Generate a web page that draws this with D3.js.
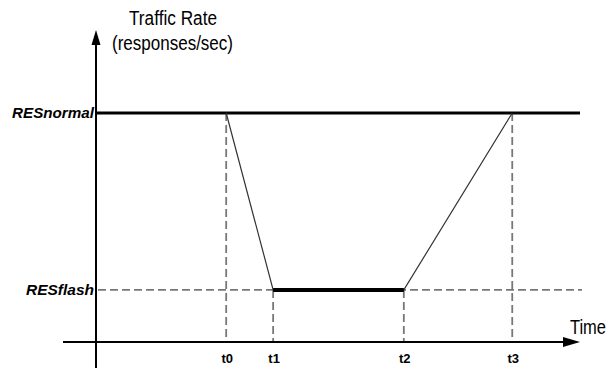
<!DOCTYPE html>
<html>
<head>
<meta charset="utf-8">
<script src="https://cdn.jsdelivr.net/npm/d3@7"></script>
<style>
  html, body { margin: 0; padding: 0; background: #fff; }
  svg { display: block; font-family: "Liberation Sans", Arial, sans-serif; }
</style>
</head>
<body>
<div id="chart"></div>
<script>
// time marks along the x axis (0-100 units)
const timeLabels = ["t0", "t1", "t2", "t3"]
const timeValues = [26.9, 36.6, 63.6, 86.0]

// rate levels on the y axis (0-100 units)
const levelLabels = ["RESnormal", "RESflash"]
const levelValues = [73.4, 16.7]

// traffic rate at each time mark
const rateSeries = [73.4, 16.7, 16.7, 73.4]

const W = 613, H = 368
const svg = d3.select("#chart").append("svg")
  .attr("width", W).attr("height", H)

const x = d3.scaleLinear().domain([0, 100]).range([96, 580])
const y = d3.scaleLinear().domain([0, 100]).range([342, 30])

const dashGrey = "#777"

// vertical dashed guides from each point down to the time axis
timeValues.forEach((t, i) => {
  svg.append("line")
    .attr("x1", x(t)).attr("x2", x(t))
    .attr("y1", y(rateSeries[i])).attr("y2", y(0))
    .attr("stroke", dashGrey).attr("stroke-width", 1.8)
    .attr("stroke-dasharray", "8,4")
})

// RESflash dashed level
svg.append("line")
  .attr("x1", x(0) + 2).attr("x2", x(100) + 2)
  .attr("y1", y(levelValues[1])).attr("y2", y(levelValues[1]))
  .attr("stroke", dashGrey).attr("stroke-width", 1.8)
  .attr("stroke-dasharray", "8,4")

// RESnormal solid level
svg.append("line")
  .attr("x1", x(0)).attr("x2", x(100))
  .attr("y1", y(levelValues[0])).attr("y2", y(levelValues[0]))
  .attr("stroke", "#000").attr("stroke-width", 3)

// traffic trace: thin ramps, thick flat part
const pts = timeValues.map((t, i) => [x(t), y(rateSeries[i])])
svg.append("path")
  .attr("d", d3.line()(pts))
  .attr("fill", "none").attr("stroke", "#333").attr("stroke-width", 1.2)
svg.append("path")
  .attr("d", d3.line()(pts.slice(1, 3)))
  .attr("fill", "none").attr("stroke", "#000").attr("stroke-width", 4)

// axes with arrows
svg.append("line")
  .attr("x1", 63).attr("x2", x(100) - 10)
  .attr("y1", y(0)).attr("y2", y(0))
  .attr("stroke", "#000").attr("stroke-width", 2)
svg.append("path")
  .attr("d", `M${x(100) - 17},${y(0) - 5}L${x(100)},${y(0)}L${x(100) - 17},${y(0) + 5}Z`)
  .attr("fill", "#000")

svg.append("line")
  .attr("x1", x(0)).attr("x2", x(0))
  .attr("y1", H).attr("y2", y(100) + 10)
  .attr("stroke", "#000").attr("stroke-width", 2)
svg.append("path")
  .attr("d", `M${x(0) - 4.5},${y(100) + 15}L${x(0)},${y(100)}L${x(0) + 4.5},${y(100) + 15}Z`)
  .attr("fill", "#000")

// time labels
svg.selectAll(".tlab")
  .data(timeLabels).join("text")
  .attr("class", "tlab")
  .attr("x", (d, i) => x(timeValues[i]) + 1)
  .attr("y", 363)
  .attr("text-anchor", "middle")
  .style("font-size", "13px").style("font-weight", "bold")
  .text(d => d)

// level labels
const levelWidths = [82, 68]
svg.selectAll(".llab")
  .data(levelLabels).join("text")
  .attr("class", "llab")
  .attr("x", 94)
  .attr("y", (d, i) => y(levelValues[i]) + 5)
  .attr("text-anchor", "end")
  .attr("textLength", (d, i) => levelWidths[i])
  .attr("lengthAdjust", "spacingAndGlyphs")
  .style("font-size", "14px").style("font-weight", "bold").style("font-style", "italic")
  .text(d => d)

// axis titles
svg.append("text")
  .attr("x", 129).attr("y", 25)
  .attr("textLength", 88).attr("lengthAdjust", "spacingAndGlyphs")
  .style("font-size", "20px")
  .text("Traffic Rate")
svg.append("text")
  .attr("x", 112).attr("y", 50)
  .attr("textLength", 121).attr("lengthAdjust", "spacingAndGlyphs")
  .style("font-size", "20px")
  .text("(responses/sec)")
svg.append("text")
  .attr("x", 570).attr("y", 334)
  .attr("textLength", 36).attr("lengthAdjust", "spacingAndGlyphs")
  .style("font-size", "20px")
  .text("Time")
</script>
</body>
</html>
